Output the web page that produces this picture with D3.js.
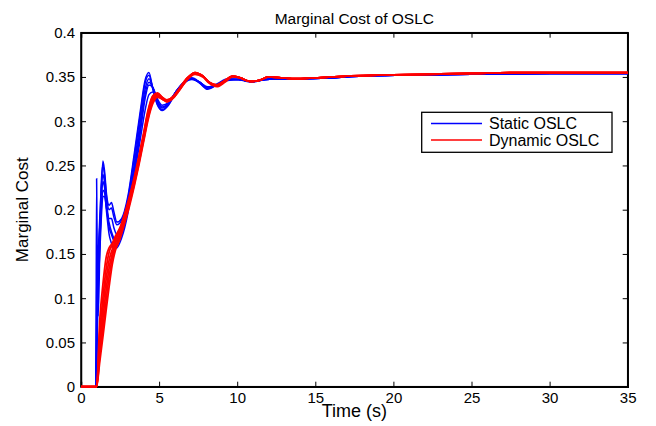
<!DOCTYPE html>
<html><head><meta charset="utf-8">
<script src="https://cdn.jsdelivr.net/npm/d3@7"></script>
<style>
body{margin:0;background:#fff;}
text{font-family:"Liberation Sans",Arial,Helvetica,sans-serif;fill:#000;}
</style></head>
<body><svg id="c" width="656" height="426"></svg>
<script>
// ---------- data ----------
const xTicks = [0,5,10,15,20,25,30,35];
const yTicks = [0,0.05,0.1,0.15,0.2,0.25,0.3,0.35,0.4];
const seriesNames = ["Static OSLC","Dynamic OSLC"];

const tStatic = [0,0.95,1.0,1.05,1.1,1.2,1.3,1.4,1.5,1.65,1.8,1.95,2.1,2.3,2.6,3.0,3.4,3.8,4.1,4.35,4.6,4.9,5.2,5.6,6.1,6.6,7.1,7.6,8.1,8.7,9.4,10.1,10.9,11.8,12.8,14,16,18,21,25,30,35];
const static1 = [0,0,0.235,0.12,0.08,0.15,0.22,0.255,0.245,0.215,0.205,0.208,0.198,0.186,0.19,0.215,0.262,0.312,0.346,0.355,0.336,0.318,0.312,0.318,0.333,0.344,0.349,0.344,0.337,0.342,0.348,0.347,0.344,0.347,0.348,0.348,0.349,0.351,0.352,0.353,0.354,0.354];
const static2 = [0,0,0.1,0.16,0.12,0.17,0.23,0.25,0.24,0.212,0.2,0.202,0.192,0.183,0.188,0.212,0.258,0.308,0.343,0.352,0.337,0.319,0.313,0.319,0.334,0.344,0.348,0.343,0.336,0.341,0.347,0.347,0.345,0.347,0.348,0.348,0.349,0.351,0.352,0.353,0.354,0.354];
const static3 = [0,0,0.06,0.13,0.15,0.19,0.225,0.24,0.232,0.205,0.19,0.19,0.18,0.172,0.18,0.205,0.25,0.3,0.336,0.348,0.338,0.321,0.315,0.32,0.334,0.344,0.348,0.343,0.337,0.341,0.347,0.347,0.345,0.347,0.348,0.348,0.349,0.351,0.352,0.353,0.354,0.354];
const static4 = [0,0,0.04,0.1,0.14,0.18,0.21,0.232,0.226,0.2,0.18,0.172,0.165,0.162,0.172,0.2,0.244,0.293,0.33,0.344,0.338,0.323,0.316,0.32,0.334,0.344,0.348,0.344,0.337,0.341,0.347,0.347,0.345,0.347,0.348,0.348,0.349,0.351,0.352,0.353,0.354,0.354];
const static5 = [0,0,0.03,0.08,0.12,0.165,0.2,0.222,0.22,0.195,0.172,0.162,0.156,0.157,0.168,0.196,0.24,0.288,0.325,0.341,0.338,0.325,0.318,0.321,0.334,0.344,0.348,0.344,0.338,0.341,0.347,0.347,0.345,0.347,0.348,0.348,0.349,0.351,0.352,0.353,0.354,0.354];
const static6 = [0,0,0.02,0.07,0.11,0.15,0.19,0.215,0.215,0.2,0.185,0.175,0.168,0.165,0.175,0.2,0.238,0.28,0.312,0.33,0.333,0.33,0.325,0.324,0.333,0.343,0.347,0.344,0.339,0.341,0.346,0.347,0.345,0.347,0.348,0.348,0.349,0.351,0.352,0.353,0.354,0.354];

const tDynamic = [0,1.0,1.2,1.4,1.6,1.8,2.0,2.2,2.5,2.8,3.1,3.4,3.7,4.0,4.3,4.6,4.9,5.2,5.5,5.9,6.3,6.8,7.3,7.8,8.2,8.7,9.2,9.7,10.2,10.8,11.4,12.0,12.8,13.8,15,17,19,22,25,29,35];
const dynamic1 = [0,0,0.075,0.115,0.145,0.157,0.162,0.17,0.18,0.196,0.215,0.236,0.26,0.286,0.313,0.329,0.332,0.327,0.324,0.328,0.337,0.349,0.355,0.351,0.344,0.341,0.346,0.351,0.349,0.345,0.346,0.35,0.349,0.348,0.349,0.351,0.352,0.353,0.354,0.355,0.355];
const dynamic2 = [0,0,0.06,0.1,0.132,0.152,0.16,0.168,0.178,0.194,0.213,0.234,0.258,0.284,0.311,0.328,0.331,0.327,0.324,0.328,0.337,0.349,0.355,0.351,0.344,0.341,0.346,0.351,0.349,0.345,0.346,0.35,0.349,0.348,0.349,0.351,0.352,0.353,0.354,0.355,0.355];
const dynamic3 = [0,0,0.05,0.088,0.12,0.143,0.155,0.165,0.176,0.192,0.211,0.232,0.256,0.282,0.309,0.326,0.33,0.326,0.323,0.327,0.336,0.348,0.355,0.351,0.344,0.34,0.345,0.351,0.349,0.345,0.346,0.35,0.349,0.348,0.349,0.351,0.352,0.353,0.354,0.355,0.355];
const dynamic4 = [0,0,0.042,0.077,0.108,0.134,0.15,0.162,0.173,0.19,0.209,0.23,0.254,0.28,0.306,0.324,0.329,0.326,0.323,0.327,0.336,0.348,0.354,0.351,0.344,0.34,0.345,0.351,0.349,0.345,0.346,0.35,0.349,0.348,0.349,0.351,0.352,0.353,0.354,0.355,0.355];
const dynamic5 = [0,0,0.035,0.066,0.096,0.124,0.145,0.158,0.17,0.188,0.207,0.228,0.252,0.278,0.304,0.322,0.328,0.325,0.322,0.326,0.335,0.347,0.354,0.351,0.344,0.34,0.345,0.35,0.349,0.345,0.346,0.35,0.349,0.348,0.349,0.351,0.352,0.353,0.354,0.355,0.355];
const dynamic6 = [0,0,0.028,0.056,0.085,0.113,0.138,0.154,0.167,0.185,0.204,0.226,0.25,0.276,0.302,0.32,0.327,0.325,0.322,0.326,0.335,0.347,0.353,0.35,0.343,0.339,0.344,0.35,0.349,0.345,0.346,0.35,0.349,0.348,0.349,0.351,0.352,0.353,0.354,0.355,0.355];

const staticSeries = [static1,static2,static3,static4,static5,static6];
const dynamicSeries = [dynamic1,dynamic2,dynamic3,dynamic4,dynamic5,dynamic6];

// ---------- layout ----------
const L=81, R=627.7, T=32.7, B=386.7;
const svg = d3.select("#c");
const x = d3.scaleLinear().domain([0,35]).range([L,R]);
const y = d3.scaleLinear().domain([0,0.4]).range([B,T]);

// axes (MATLAB-style box with inward ticks)
const fmt = d=>String(d);
const xb = svg.append("g").attr("transform",`translate(0,${B})`)
  .call(d3.axisBottom(x).tickValues(xTicks).tickSize(-5).tickPadding(6).tickFormat(fmt));
const xt = svg.append("g").attr("transform",`translate(0,${T})`)
  .call(d3.axisTop(x).tickValues(xTicks).tickSize(-5).tickFormat(""));
const yl = svg.append("g").attr("transform",`translate(${L},0)`)
  .call(d3.axisLeft(y).tickValues(yTicks).tickSize(-5).tickPadding(6).tickFormat(fmt));
const yr = svg.append("g").attr("transform",`translate(${R},0)`)
  .call(d3.axisRight(y).tickValues(yTicks).tickSize(-5).tickFormat(""));
[xb,xt,yl,yr].forEach(a=>{
  a.select(".domain").attr("stroke","#000").attr("stroke-width",1.5);
  a.selectAll(".tick line").attr("stroke","#000").attr("stroke-width",1);
  a.selectAll(".tick text").attr("font-size",15).attr("font-family","Liberation Sans, Arial, sans-serif").attr("fill","#000");
});
svg.append("rect").attr("x",L).attr("y",T).attr("width",R-L).attr("height",B-T)
  .attr("fill","none").attr("stroke","#000").attr("stroke-width",1.5);

// curves drawn on top of the box
const line = d3.line().x(d=>x(d[0])).y(d=>y(d[1])).curve(d3.curveMonotoneX);
const g = svg.append("g");
staticSeries.forEach(s=>{
  g.append("path").attr("d", line(tStatic.map((t,i)=>[t,s[i]])))
   .attr("fill","none").attr("stroke","#0000ff").attr("stroke-width",1.5);
});
dynamicSeries.forEach(s=>{
  g.append("path").attr("d", line(tDynamic.map((t,i)=>[t,s[i]])))
   .attr("fill","none").attr("stroke","#ff0000").attr("stroke-width",1.8);
});

// titles
svg.append("text").attr("x",(L+R)/2).attr("y",24).attr("text-anchor","middle").attr("font-size",15.5).text("Marginal Cost of OSLC");
svg.append("text").attr("x",(L+R)/2).attr("y",417).attr("text-anchor","middle").attr("font-size",18).text("Time (s)");
svg.append("text").attr("transform",`translate(28,${(T+B)/2}) rotate(-90)`).attr("text-anchor","middle").attr("font-size",17).text("Marginal Cost");

// legend
const lg = svg.append("g");
lg.append("rect").attr("x",421.7).attr("y",112.3).attr("width",190.3).attr("height",40)
  .attr("fill","#fff").attr("stroke","#000").attr("stroke-width",1.3);
const colors=["#0000ff","#ff0000"];
seriesNames.forEach((n,i)=>{
  const yy = 123.5 + i*16.5;
  lg.append("line").attr("x1",431).attr("x2",482).attr("y1",yy).attr("y2",yy).attr("stroke",colors[i]).attr("stroke-width",1.3);
  lg.append("text").attr("x",489).attr("y",yy+5.5).attr("font-size",16).text(n);
});
</script></body></html>
